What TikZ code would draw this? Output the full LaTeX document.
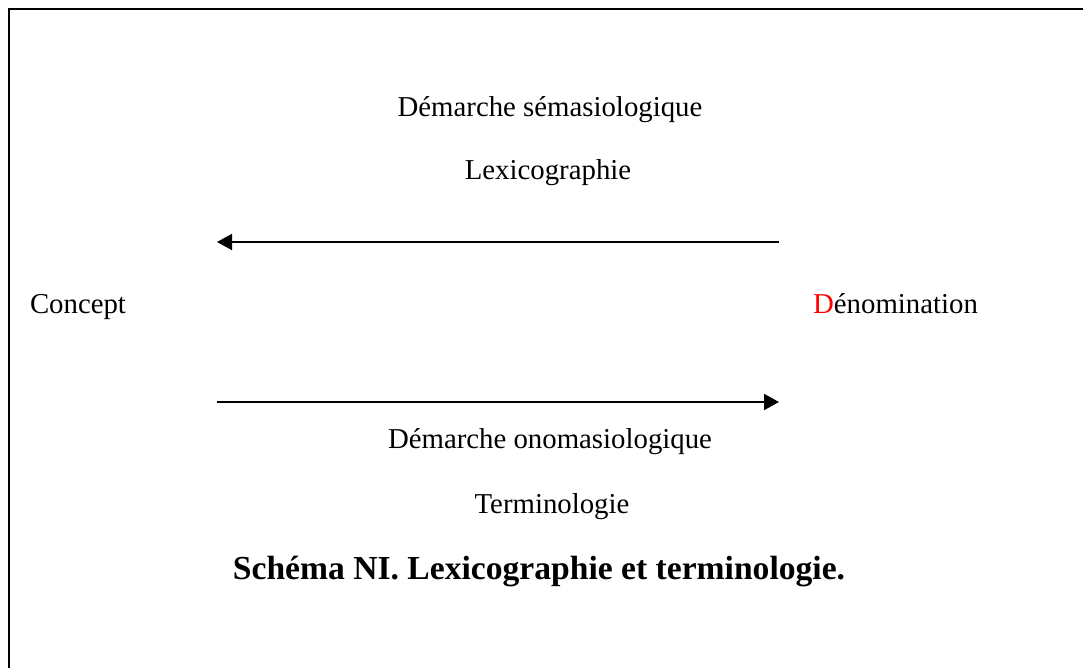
\documentclass[tikz,border=0pt]{standalone}
\usepackage{fontspec}
\setmainfont{Liberation Serif}
\usetikzlibrary{arrows.meta}
\definecolor{pureRed}{RGB}{255,0,0}
\tikzset{
  lbl/.style={anchor=base, inner sep=0pt, font=\fontsize{28.8}{34}\selectfont},
  captionlbl/.style={anchor=base, inner sep=0pt, font=\fontsize{33.6}{40}\selectfont\bfseries},
  arr/.style={line width=2pt, -{Triangle[length=15pt,width=16pt]}},
  frameline/.style={line width=2.5pt}
}
\begin{document}
\begin{tikzpicture}[x=1pt,y=-1pt]
\useasboundingbox (0,0) rectangle (1083,668);
\draw[frameline] (9,680) -- (9,9) -- (1095,9);
\node[lbl] (sema) at (550,117) {Démarche sémasiologique};
\node[lbl] (lexi) at (548,180) {Lexicographie};
\node[lbl] (conc) at (78,313) {Concept};
\node[lbl] (deno) at (895.5,313) {{\color{pureRed}D}énomination};
\node[lbl] (onom) at (550,448) {Démarche onomasiologique};
\node[lbl] (term) at (552,513) {Terminologie};
\node[captionlbl] (capt) at (539,579) {Schéma NI. Lexicographie et terminologie.};
\coordinate (t1) at (779,242);
\coordinate (t2) at (217,242);
\coordinate (b1) at (217,402);
\coordinate (b2) at (779,402);
\draw[arr] (t1) -- (t2);
\draw[arr] (b1) -- (b2);
\end{tikzpicture}
\end{document}
